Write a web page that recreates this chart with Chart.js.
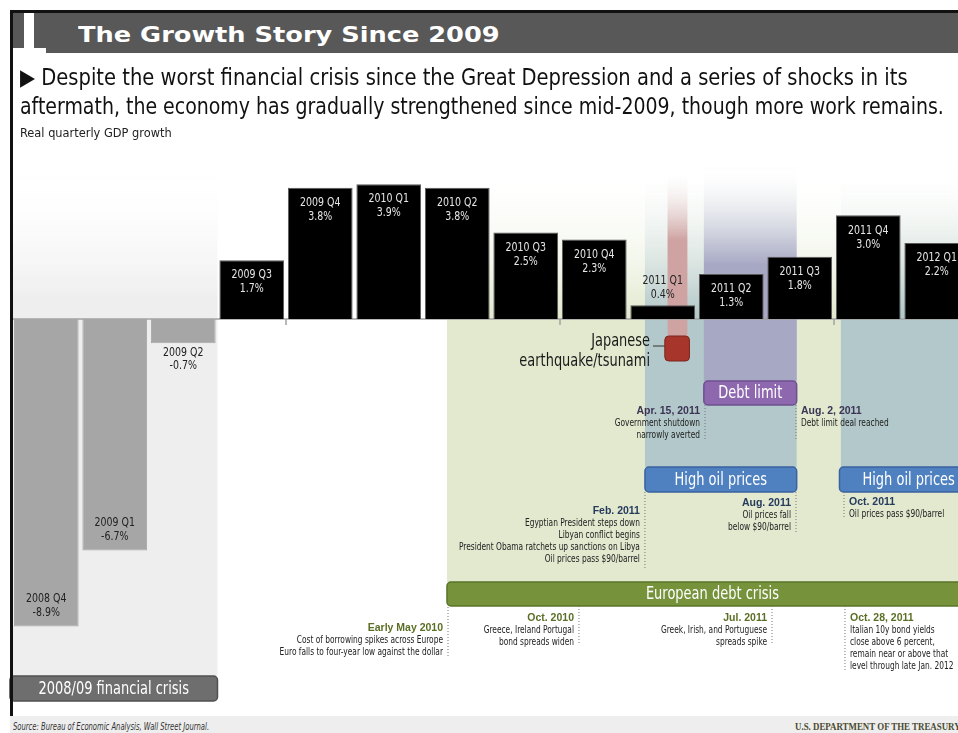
<!DOCTYPE html>
<html>
<head>
<meta charset="utf-8">
<title>The Growth Story Since 2009</title>
<script src="https://cdn.jsdelivr.net/npm/chart.js@4.4.1/dist/chart.umd.min.js"></script>
<style>
  html, body { margin: 0; padding: 0; background: #fff; width: 958px; height: 733px; overflow: hidden; }
  #page { position: relative; width: 958px; height: 733px; overflow: hidden; }
  #growthChart { position: absolute; left: 0; top: 0; }
  .blk { position: absolute; }
  .txt { position: absolute; white-space: nowrap; transform-origin: 0 50%; line-height: 1; }
  .narrow { font-family: "Liberation Sans Narrow", "DejaVu Sans Condensed", "Roboto", sans-serif; }
</style>
</head>
<body>
<div id="page">
  <canvas id="growthChart" width="976" height="733"></canvas>

  <!-- frame + header -->
  <div class="blk" style="left:10px;top:10px;width:948px;height:3px;background:#111;"></div>
  <div class="blk" style="left:10px;top:10px;width:3px;height:706px;background:#111;"></div>
  <div class="blk" style="left:13px;top:13px;width:945px;height:40px;background:#585858;"></div>
  <div class="blk" style="left:13px;top:48px;width:33px;height:6px;background:#fff;"></div>
  <div class="blk" style="left:24px;top:13px;width:10px;height:41px;background:#fff;"></div>
  <div id="title" class="txt" style="left:78px;top:22px;color:#fff;font:bold 22px 'DejaVu Sans', sans-serif;">The Growth Story Since 2009</div>

  <div id="sub1" class="txt narrow" style="left:20px;top:66px;font-size:23px;color:#111;">&#9654; Despite the worst financial crisis since the Great Depression and a series of shocks in its</div>
  <div id="sub2" class="txt narrow" style="left:20px;top:95px;font-size:23px;color:#111;">aftermath, the economy has gradually strengthened since mid-2009, though more work remains.</div>
  <div id="note" class="txt narrow" style="left:20px;top:127px;font-size:12px;color:#222;">Real quarterly GDP growth</div>

  <!-- footer -->
  <div class="blk" style="left:10px;top:716px;width:948px;height:17px;background:#eeeeee;"></div>
  <div id="src" class="txt narrow" style="left:13px;top:722px;font-size:10px;font-style:italic;color:#333;">Source: Bureau of Economic Analysis, Wall Street Journal.</div>
  <div id="treas" class="txt" style="left:795px;top:721px;font:bold 10px 'Liberation Serif', serif;color:#4a4a30;">U.S. DEPARTMENT OF THE TREASURY</div>
</div>

<script>
// Real quarterly GDP growth, annualized %
const quarters = ['2008 Q4', '2009 Q1', '2009 Q2', '2009 Q3', '2009 Q4', '2010 Q1', '2010 Q2',
                  '2010 Q3', '2010 Q4', '2011 Q1', '2011 Q2', '2011 Q3', '2011 Q4', '2012 Q1'];
const growth = [-8.9, -6.7, -0.7, 1.7, 3.8, 3.9, 3.8, 2.5, 2.3, 0.4, 1.3, 1.8, 3.0, 2.2];

const NARROW = "'Liberation Sans Narrow', 'DejaVu Sans Condensed', Roboto, sans-serif";
const BOLD = "bold 10.5px 'Liberation Sans', Arial, sans-serif";

// shaded periods behind the bars (x in category index units)
const bands = [
  { from: -0.5, to: 2.5, top: 168, bottom: 676, color: '#eeeeee', fade: 130 },
  { from: 5.85, to: 13.6, top: 165, bottom: 582, color: '#e2e9cf', fade: 150 },
  { from: 8.74, to: 10.955, top: 165, bottom: 467, color: '#b3c8ca', fade: 150 },
  { from: 11.6, to: 13.6, top: 165, bottom: 467, color: '#b3c8ca', fade: 150 },
  { from: 9.6, to: 10.955, top: 165, bottom: 381, color: '#a7a8c4', fade: 100 },
  { from: 9.07, to: 9.36, top: 170, bottom: 340, color: '#cfa3a2', fade: 70 }
];

// labelled boxes
const boxes = [
  { text: '2008/09 financial crisis', from: -0.53, to: 2.5, top: 676, bottom: 701, fill: '#6e6e6e', stroke: '#505050', size: 17 },
  { text: 'European debt crisis', from: 5.85, to: 13.6, top: 582, bottom: 606, fill: '#76933c', stroke: '#5b7429', size: 17 },
  { text: 'High oil prices', from: 8.74, to: 10.955, top: 467, bottom: 492, fill: '#4f81c0', stroke: '#3a62a0', size: 17 },
  { text: 'High oil prices', from: 11.58, to: 13.6, top: 467, bottom: 492, fill: '#4f81c0', stroke: '#3a62a0', size: 17 },
  { text: 'Debt limit', from: 9.6, to: 10.955, top: 381, bottom: 405, fill: '#8d68ae', stroke: '#6e4f8f', size: 17 }
];

// dated notes hanging from the boxes
const notes = [
  { at: 5.865, side: 'right', y: 628, line: [607, 657], color: '#5a6e25', head: 'Early May 2010',
    lines: ['Cost of borrowing spikes across Europe', 'Euro falls to four-year low against the dollar'] },
  { at: 7.777, side: 'right', y: 618, line: [606, 645], color: '#5a6e25', head: 'Oct. 2010',
    lines: ['Greece, Ireland Portugal', 'bond spreads widen'] },
  { at: 10.595, side: 'right', y: 618, line: [606, 645], color: '#5a6e25', head: 'Jul. 2011',
    lines: ['Greek, Irish, and Portuguese', 'spreads spike'] },
  { at: 11.66, side: 'left', y: 618, line: [606, 672], color: '#5a6e25', head: 'Oct. 28, 2011',
    lines: ['Italian 10y bond yields', 'close above 6 percent,', 'remain near or above that', 'level through late Jan. 2012'] },
  { at: 9.617, side: 'right', y: 411, line: [405, 440], color: '#3b3454', head: 'Apr. 15, 2011',
    lines: ['Government shutdown', 'narrowly averted'] },
  { at: 10.945, side: 'left', y: 411, line: [405, 440], color: '#3b3454', head: 'Aug. 2, 2011',
    lines: ['Debt limit deal reached'] },
  { at: 8.74, side: 'right', y: 511, line: [492, 570], color: '#263a5e', head: 'Feb. 2011',
    lines: ['Egyptian President steps down', 'Libyan conflict begins', 'President Obama ratchets up sanctions on Libya', 'Oil prices pass $90/barrel'] },
  { at: 10.945, side: 'right', y: 503, line: [492, 532], color: '#263a5e', head: 'Aug. 2011',
    lines: ['Oil prices fall', 'below $90/barrel'] },
  { at: 11.646, side: 'left', y: 502, line: [492, 518], color: '#263a5e', head: 'Oct. 2011',
    lines: ['Oil prices pass $90/barrel'] }
];

function roundRect(ctx, x, y, w, h, r) {
  ctx.beginPath();
  ctx.moveTo(x + r, y);
  ctx.arcTo(x + w, y, x + w, y + h, r);
  ctx.arcTo(x + w, y + h, x, y + h, r);
  ctx.arcTo(x, y + h, x, y, r);
  ctx.arcTo(x, y, x + w, y, r);
  ctx.closePath();
}

// condensed font is squeezed horizontally to get the narrow look of the original
function narrowText(ctx, text, x, y, size, align, sx) {
  ctx.save();
  ctx.translate(x, y);
  ctx.scale(sx, 1);
  ctx.font = size + 'px ' + NARROW;
  ctx.textAlign = align;
  ctx.textBaseline = 'middle';
  ctx.fillText(text, 0, 0);
  ctx.restore();
}

const backdrop = {
  id: 'backdrop',
  beforeDatasetsDraw(chart) {
    const { ctx, chartArea, scales: { x, y } } = chart;
    ctx.save();
    bands.forEach(b => {
      const x0 = x.getPixelForValue(b.from), x1 = x.getPixelForValue(b.to);
      const g = ctx.createLinearGradient(0, b.top, 0, b.top + b.fade);
      g.addColorStop(0, 'rgba(255,255,255,0)');
      g.addColorStop(1, b.color);
      ctx.fillStyle = g;
      ctx.fillRect(x0, b.top, x1 - x0, b.bottom - b.top);
    });
    // zero line + small ticks before each Q4
    const y0 = y.getPixelForValue(0);
    ctx.strokeStyle = '#a3a3a3';
    ctx.lineWidth = 1.5;
    ctx.beginPath();
    ctx.moveTo(chartArea.left, y0);
    ctx.lineTo(chartArea.right, y0);
    [3.5, 7.5, 11.5].forEach(t => {
      const tx = x.getPixelForValue(t);
      ctx.moveTo(tx, y0);
      ctx.lineTo(tx, y0 + 6);
    });
    ctx.stroke();
    ctx.restore();
  },
  afterDatasetsDraw(chart) {
    const { ctx, scales: { x } } = chart;
    ctx.save();
    ctx.textBaseline = 'middle';

    // bar labels
    const meta = chart.getDatasetMeta(0);
    meta.data.forEach((bar, i) => {
      const v = growth[i];
      const l1 = quarters[i], l2 = v.toFixed(1) + '%';
      let a, b;
      if (v >= 1) {
        ctx.fillStyle = '#e6e6e6'; a = bar.y + 15; b = bar.y + 29;
      } else if (v >= 0) {
        ctx.fillStyle = '#222'; a = bar.y - 24; b = bar.y - 10;
      } else if (bar.y - bar.base > 60) {
        ctx.fillStyle = '#222'; a = bar.y - 28; b = bar.y - 14;
      } else {
        ctx.fillStyle = '#222'; a = bar.y + 10; b = bar.y + 23;
      }
      narrowText(ctx, l1, bar.x, a, 12.5, 'center', 0.84);
      narrowText(ctx, l2, bar.x, b, 12.5, 'center', 0.84);
    });

    // Japanese earthquake marker
    const jx0 = x.getPixelForValue(9.03), jx1 = x.getPixelForValue(9.39);
    ctx.strokeStyle = '#333';
    ctx.lineWidth = 1;
    ctx.beginPath();
    ctx.moveTo(653, 346); ctx.lineTo(jx0 + 6, 346);
    ctx.stroke();
    roundRect(ctx, jx0, 336, jx1 - jx0, 25, 4);
    ctx.fillStyle = '#a8352c';
    ctx.fill();
    ctx.strokeStyle = '#7d251f';
    ctx.stroke();
    ctx.fillStyle = '#1a1a1a';
    narrowText(ctx, 'Japanese', 650, 341, 18, 'right', 0.8);
    narrowText(ctx, 'earthquake/tsunami', 650, 361, 18, 'right', 0.8);

    // boxes
    boxes.forEach(bx => {
      const x0 = x.getPixelForValue(bx.from), x1 = x.getPixelForValue(bx.to);
      roundRect(ctx, x0, bx.top, x1 - x0, bx.bottom - bx.top, 4);
      ctx.fillStyle = bx.fill;
      ctx.fill();
      ctx.lineWidth = 1.5;
      ctx.strokeStyle = bx.stroke;
      ctx.stroke();
      ctx.fillStyle = '#fff';
      narrowText(ctx, bx.text, (x0 + x1) / 2, (bx.top + bx.bottom) / 2 + 1, bx.size, 'center', 0.85);
    });

    // notes with dotted leader lines
    notes.forEach(n => {
      const nx = x.getPixelForValue(n.at);
      ctx.strokeStyle = '#777';
      ctx.lineWidth = 1;
      ctx.setLineDash([1, 2]);
      ctx.beginPath();
      ctx.moveTo(nx, n.line[0]);
      ctx.lineTo(nx, n.line[1]);
      ctx.stroke();
      ctx.setLineDash([]);
      const tx = n.side === 'right' ? nx - 5 : nx + 5;
      ctx.textAlign = n.side === 'right' ? 'right' : 'left';
      ctx.font = BOLD;
      ctx.fillStyle = n.color;
      ctx.fillText(n.head, tx, n.y);
      ctx.fillStyle = '#222';
      n.lines.forEach((t, k) => narrowText(ctx, t, tx, n.y + 12 * (k + 1), 10.5, ctx.textAlign, 0.79));
    });
    ctx.restore();
  }
};

const chartEl = document.getElementById('growthChart');
new Chart(chartEl.getContext('2d'), {
  type: 'bar',
  data: {
    labels: quarters,
    datasets: [{
      label: 'Real quarterly GDP growth',
      data: growth,
      backgroundColor: growth.map(v => v < 0 ? '#a6a6a6' : '#000'),
      borderColor: growth.map(v => v < 0 ? '#a6a6a6' : '#5a5a5a'),
      borderWidth: 1,
      barPercentage: 0.945,
      categoryPercentage: 1
    }]
  },
  options: {
    responsive: false,
    animation: false,
    layout: { padding: { left: 12, right: 5, top: 160, bottom: 20 } },
    plugins: { legend: { display: false }, tooltip: { enabled: false } },
    scales: {
      x: { display: false },
      y: { display: false, min: -11.4, max: 4.6 }
    }
  },
  plugins: [backdrop]
});

// stretch the header texts to the widths they take in the original
function fitWidth(id, w) {
  const el = document.getElementById(id);
  el.style.transform = 'scaleX(' + (w / el.scrollWidth) + ')';
}
fitWidth('title', 422);
fitWidth('sub1', 888);
fitWidth('sub2', 924);
fitWidth('note', 152);
fitWidth('src', 196);
fitWidth('treas', 166);
</script>
</body>
</html>
